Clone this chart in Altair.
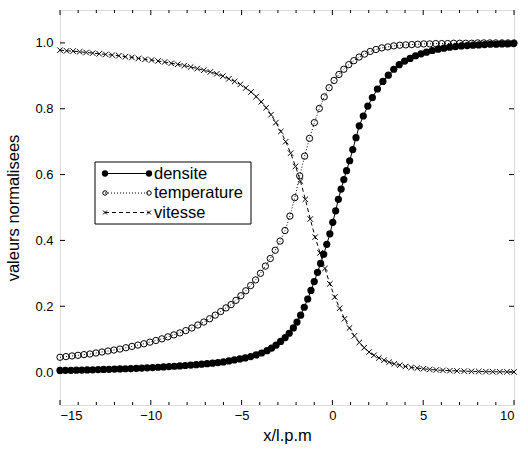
import altair as alt
import pandas as pd

series_names = ["densite", "temperature", "vitesse"]

dens_x = [-15.0, -14.7, -14.4, -14.1, -13.8, -13.5, -13.2, -12.9, -12.6, -12.3,
          -12.0, -11.7, -11.4, -11.1, -10.8, -10.5, -10.2, -9.9, -9.6, -9.3,
          -9.0, -8.7, -8.4, -8.1, -7.8, -7.5, -7.2, -6.9, -6.6, -6.3,
          -6.0, -5.7, -5.4, -5.1, -4.8, -4.5, -4.2, -3.9, -3.6,
          -3.35, -3.1, -2.85, -2.6,
          -2.38, -2.15, -1.95, -1.75, -1.55, -1.36, -1.18, -1.0, -0.82, -0.65, -0.48, -0.31, -0.14,
          0.02, 0.18, 0.33, 0.48, 0.63, 0.78, 0.95, 1.12, 1.3, 1.48, 1.7, 1.95, 2.2, 2.48, 2.78,
          3.08, 3.38, 3.68, 3.98, 4.28, 4.58, 4.88, 5.18,
          5.5, 5.82, 6.14, 6.46, 6.78, 7.1, 7.42, 7.74, 8.06, 8.38, 8.7, 9.02, 9.34, 9.66, 9.98]
dens_y = [0.005, 0.0052, 0.0055, 0.0058, 0.0062, 0.0066, 0.007, 0.0075, 0.008, 0.0085,
          0.009, 0.0095, 0.0101, 0.0108, 0.0115, 0.0122, 0.013, 0.0138, 0.0147, 0.0156,
          0.0166, 0.0177, 0.0188, 0.02, 0.0213, 0.0226, 0.024, 0.0255, 0.027, 0.029,
          0.031, 0.034, 0.037, 0.04, 0.043, 0.047, 0.052, 0.058, 0.065,
          0.073, 0.082, 0.093, 0.105,
          0.118, 0.134, 0.152, 0.173, 0.197, 0.222, 0.248, 0.275, 0.303, 0.33, 0.358, 0.388, 0.42,
          0.455, 0.49, 0.525, 0.556, 0.585, 0.612, 0.642, 0.676, 0.712, 0.748, 0.778, 0.808, 0.834, 0.86, 0.883,
          0.902, 0.92, 0.934, 0.945, 0.953, 0.961, 0.967, 0.972,
          0.977, 0.981, 0.984, 0.987, 0.989, 0.991, 0.992, 0.993, 0.994, 0.995, 0.996, 0.996, 0.997, 0.997, 0.998]

temp_x = [-15.0, -14.67, -14.34, -14.01, -13.68, -13.35, -13.02, -12.69, -12.36, -12.03,
          -11.7, -11.37, -11.04, -10.71, -10.38, -10.05, -9.72, -9.39, -9.06, -8.73,
          -8.4, -8.07, -7.74, -7.41, -7.08, -6.76, -6.45, -6.15, -5.86, -5.58,
          -5.31, -5.04, -4.77, -4.5, -4.23, -3.96, -3.69, -3.42, -3.15, -2.88,
          -2.61, -2.34, -2.07, -1.8, -1.53, -1.26, -0.99, -0.72, -0.45, -0.18,
          0.09, 0.36, 0.63, 0.9, 1.18, 1.47, 1.77, 2.08, 2.4, 2.72,
          3.05, 3.38, 3.71, 4.04, 4.37, 4.7, 5.03, 5.36, 5.69, 6.02,
          6.35, 6.68, 7.01, 7.34, 7.67, 8.0, 8.34, 8.67, 9.0, 9.34,
          9.67, 10.0]
temp_y = [0.045, 0.047, 0.049, 0.051, 0.053, 0.055, 0.058, 0.061, 0.064, 0.067,
          0.07, 0.074, 0.078, 0.082, 0.086, 0.091, 0.096, 0.101, 0.107, 0.113,
          0.119, 0.126, 0.134, 0.143, 0.152, 0.162, 0.173, 0.184, 0.195, 0.205,
          0.218, 0.232, 0.247, 0.263, 0.28, 0.3, 0.322, 0.345, 0.37, 0.398,
          0.43, 0.474, 0.53, 0.596, 0.656, 0.71, 0.758, 0.801, 0.836, 0.864,
          0.886, 0.904, 0.92, 0.934, 0.946, 0.957, 0.966, 0.974, 0.98, 0.985,
          0.988, 0.991, 0.993, 0.994, 0.995, 0.996, 0.997, 0.997, 0.998, 0.998,
          0.998, 0.999, 0.999, 0.999, 0.999, 1.0, 1.0, 1.0, 1.0, 1.0,
          1.0, 1.0]

vit_x = [-15.0, -14.64, -14.28, -13.92, -13.56, -13.2, -12.84, -12.48, -12.12, -11.76,
         -11.4, -11.04, -10.68, -10.32, -9.96, -9.6, -9.24, -8.88, -8.52, -8.16,
         -7.8, -7.44, -7.08, -6.72, -6.37, -6.03, -5.7, -5.38, -5.07, -4.77,
         -4.48, -4.2, -3.92, -3.65, -3.38, -3.11, -2.84, -2.57, -2.3, -2.03,
         -1.76, -1.49, -1.22, -0.95, -0.68, -0.41, -0.14, 0.13, 0.4, 0.67,
         0.94, 1.21, 1.48, 1.75, 2.02, 2.29, 2.56, 2.84, 3.12, 3.41,
         3.71, 4.02, 4.34, 4.67, 5.01, 5.36, 5.72, 6.09, 6.47, 6.86,
         7.26, 7.66, 8.06, 8.45, 8.83, 9.22, 9.61, 10.0]
vit_y = [0.978, 0.976, 0.975, 0.973, 0.971, 0.969, 0.967, 0.965, 0.963, 0.961,
         0.958, 0.956, 0.953, 0.95, 0.948, 0.945, 0.942, 0.938, 0.935, 0.931,
         0.927, 0.922, 0.917, 0.912, 0.906, 0.899, 0.891, 0.883, 0.874, 0.863,
         0.851, 0.837, 0.821, 0.803, 0.782, 0.758, 0.731, 0.70, 0.665, 0.625,
         0.58, 0.525, 0.465, 0.41, 0.362, 0.315, 0.268, 0.228, 0.194, 0.162,
         0.134, 0.11, 0.09, 0.074, 0.061, 0.051, 0.043, 0.036, 0.03, 0.025,
         0.021, 0.017, 0.014, 0.012, 0.01, 0.008, 0.0065, 0.0053, 0.0043, 0.0035,
         0.0028, 0.0022, 0.0018, 0.0014, 0.0011, 0.0009, 0.0007, 0.0005]

x_major = [-15, -10, -5, 0, 5, 10]
x_minor = [-14, -13, -12, -11, -9, -8, -7, -6, -4, -3, -2, -1, 1, 2, 3, 4, 6, 7, 8, 9]
y_major = [0.0, 0.2, 0.4, 0.6, 0.8, 1.0]

rows = []
for name, xs_, ys_ in zip(series_names, [dens_x, temp_x, vit_x], [dens_y, temp_y, vit_y]):
    assert len(xs_) == len(ys_), name
    for i, (a, b) in enumerate(zip(xs_, ys_)):
        rows.append({"serie": name, "x": a, "y": b, "i": i})
df = pd.DataFrame(rows)

W, H = 454, 395
XMIN, XMAX, YMIN, YMAX = -15, 10, -0.1, 1.1
FONT = "Liberation Sans"
CROSS = "M-1,-1L1,1M-1,1L1,-1"

xscale = alt.Scale(domain=[XMIN, XMAX], nice=False, zero=False)
yscale = alt.Scale(domain=[YMIN, YMAX], nice=False, zero=False)
xaxis = alt.Axis(values=x_major, ticks=False, domain=False, grid=False,
                 labelFontSize=13, labelPadding=4, labelColor="black", labelFont=FONT,
                 title="x/l.p.m", titleFontSize=16.5, titleFontWeight="normal",
                 titleColor="black", titleFont=FONT, titlePadding=5)
yaxis = alt.Axis(values=y_major, format=".1f", ticks=False, domain=False, grid=False,
                 labelFontSize=13, labelPadding=7, labelColor="black", labelFont=FONT,
                 title="valeurs normalisees", titleFontSize=16.5, titleFontWeight="normal",
                 titleColor="black", titleFont=FONT, titlePadding=13)

base = alt.Chart(df)
X = alt.X("x:Q", scale=xscale, axis=xaxis)
Y = alt.Y("y:Q", scale=yscale, axis=yaxis)

def series(name):
    return base.transform_filter(alt.datum.serie == name)

line_d = series("densite").mark_line(color="black", strokeWidth=1).encode(x=X, y=Y, order="i:Q")
line_t = series("temperature").mark_line(color="black", strokeWidth=1, strokeDash=[1, 2]).encode(x=X, y=Y, order="i:Q")
line_v = series("vitesse").mark_line(color="black", strokeWidth=1, strokeDash=[4, 3]).encode(x=X, y=Y, order="i:Q")

pts_d = series("densite").mark_point(shape="circle", filled=True, color="black", size=52, opacity=1).encode(x=X, y=Y)
pts_t = series("temperature").mark_point(shape="circle", filled=False, color="black", strokeWidth=1, size=40, opacity=1).encode(x=X, y=Y)
pts_v = series("vitesse").mark_point(shape=CROSS, filled=False, color="black", strokeWidth=1, size=30, opacity=1).encode(x=X, y=Y)

# inward ticks on the frame (tick lengths in pixels converted to data units)
ky = (YMAX - YMIN) / H      # data units per pixel, vertical
kx = (XMAX - XMIN) / W      # data units per pixel, horizontal
tick_style = dict(color="black", strokeWidth=1)

def xticks(values, length):
    d = pd.DataFrame({"x": values})
    bot = alt.Chart(d).transform_calculate(a=str(YMIN), b=f"{YMIN + length * ky}").mark_rule(**tick_style).encode(
        x=X, y=alt.Y("a:Q", scale=yscale, axis=yaxis), y2="b:Q")
    top = alt.Chart(d).transform_calculate(a=str(YMAX), b=f"{YMAX - length * ky}").mark_rule(**tick_style).encode(
        x=X, y=alt.Y("a:Q", scale=yscale, axis=yaxis), y2="b:Q")
    return [bot, top]

def yticks(values, length):
    d = pd.DataFrame({"y": values})
    left = alt.Chart(d).transform_calculate(a=str(XMIN), b=f"{XMIN + length * kx}").mark_rule(**tick_style).encode(
        y=Y, x=alt.X("a:Q", scale=xscale, axis=xaxis), x2="b:Q")
    right = alt.Chart(d).transform_calculate(a=str(XMAX), b=f"{XMAX - length * kx}").mark_rule(**tick_style).encode(
        y=Y, x=alt.X("a:Q", scale=xscale, axis=xaxis), x2="b:Q")
    return [left, right]

ticks = xticks(x_major, 5) + xticks(x_minor, 3) + yticks(y_major, 5)

# legend drawn by hand
ldf = pd.DataFrame({"serie": series_names})
box = alt.Chart(ldf.head(1)).mark_rect(fill="white", stroke="black", strokeWidth=1).encode(
    x=alt.value(35), x2=alt.value(191), y=alt.value(152), y2=alt.value(214))
legend_layers = [box]
ly = [163.5, 183, 202.5]
dashes = [None, [1, 2], [4, 3]]
for k, name in enumerate(series_names):
    src = alt.Chart(ldf).transform_filter(alt.datum.serie == name)
    rule_kw = dict(color="black", strokeWidth=1)
    if dashes[k]:
        rule_kw["strokeDash"] = dashes[k]
    legend_layers.append(src.mark_rule(**rule_kw).encode(
        x=alt.value(45), x2=alt.value(89), y=alt.value(ly[k])))
    if k == 0:
        mk = dict(shape="circle", filled=True, color="black", size=40, opacity=1)
    elif k == 1:
        mk = dict(shape="circle", filled=False, color="black", strokeWidth=1, size=20, opacity=1)
    else:
        mk = dict(shape=CROSS, filled=False, color="black", strokeWidth=1, size=16, opacity=1)
    for px in (45, 89):
        legend_layers.append(src.mark_point(**mk).encode(x=alt.value(px), y=alt.value(ly[k])))
    legend_layers.append(src.mark_text(align="left", baseline="middle", fontSize=16.5, font=FONT,
                                       color="black").encode(
        x=alt.value(94), y=alt.value(ly[k]), text="serie:N"))

chart = alt.layer(line_d, line_t, line_v, pts_d, pts_t, pts_v, *ticks, *legend_layers).properties(
    width=W, height=H,
    autosize=alt.AutoSizeParams(type="none"),
    padding={"left": 60, "top": 10, "right": 14, "bottom": 45},
).configure_view(stroke="black", strokeWidth=1).configure(background="white")

chart.save("out.html", embed_options={"renderer": "svg", "actions": False})
